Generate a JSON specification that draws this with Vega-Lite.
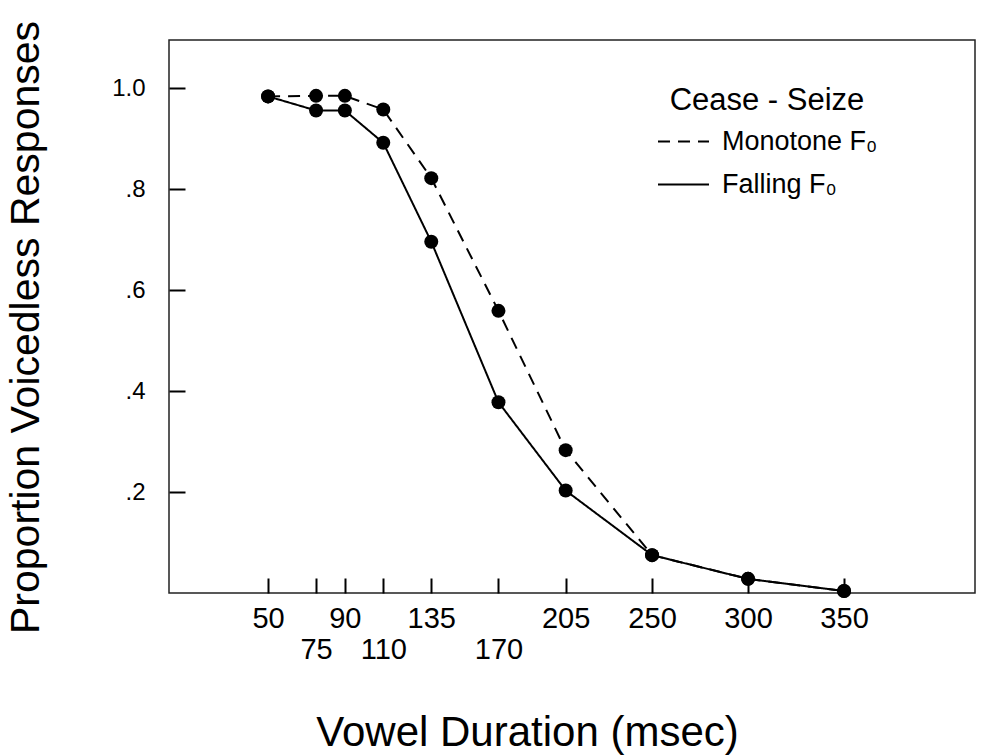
{
  "$schema": "https://vega.github.io/schema/vega-lite/v6.json",
  "autosize": "none",
  "padding": {"left": 169, "top": 40, "right": 19, "bottom": 163},
  "width": 806,
  "height": 553,
  "background": "white",
  "config": {
    "view": {"stroke": "#222", "strokeWidth": 1.5},
    "font": "Liberation Sans"
  },
  "data": {
    "values": [
      {"series": "Monotone F₀", "duration": 50, "p": 0.984},
      {"series": "Monotone F₀", "duration": 75, "p": 0.985},
      {"series": "Monotone F₀", "duration": 90, "p": 0.985},
      {"series": "Monotone F₀", "duration": 110, "p": 0.958},
      {"series": "Monotone F₀", "duration": 135, "p": 0.822},
      {"series": "Monotone F₀", "duration": 170, "p": 0.559},
      {"series": "Monotone F₀", "duration": 205, "p": 0.283},
      {"series": "Monotone F₀", "duration": 250, "p": 0.075},
      {"series": "Monotone F₀", "duration": 300, "p": 0.028},
      {"series": "Monotone F₀", "duration": 350, "p": 0.004},
      {"series": "Falling F₀", "duration": 50, "p": 0.984},
      {"series": "Falling F₀", "duration": 75, "p": 0.956},
      {"series": "Falling F₀", "duration": 90, "p": 0.956},
      {"series": "Falling F₀", "duration": 110, "p": 0.892},
      {"series": "Falling F₀", "duration": 135, "p": 0.696},
      {"series": "Falling F₀", "duration": 170, "p": 0.378},
      {"series": "Falling F₀", "duration": 205, "p": 0.203},
      {"series": "Falling F₀", "duration": 250, "p": 0.075},
      {"series": "Falling F₀", "duration": 300, "p": 0.028},
      {"series": "Falling F₀", "duration": 350, "p": 0.004}
    ]
  },
  "encoding": {
    "x": {
      "field": "duration",
      "type": "quantitative",
      "scale": {"domain": [-1.6, 418.2], "nice": false, "zero": false},
      "axis": {
        "values": [50, 75, 90, 110, 135, 170, 205, 250, 300, 350],
        "labelExpr": "indexof([75, 110, 170], datum.value) >= 0 ? ['', datum.label] : datum.label",
        "labelFontSize": 29,
        "labelLineHeight": 31,
        "labelBaseline": "top",
        "labelColor": "black",
        "labelOverlap": false,
        "labelFlush": false,
        "labelPadding": 26,
        "tickSize": -15,
        "tickWidth": 2,
        "tickColor": "black",
        "domain": false,
        "grid": false,
        "title": "Vowel Duration (msec)",
        "titleFontSize": 42,
        "titleFontWeight": "normal",
        "titleColor": "black",
        "titleX": 358,
        "titleY": 152,
        "titleBaseline": "alphabetic"
      }
    },
    "y": {
      "field": "p",
      "type": "quantitative",
      "scale": {"domain": [0, 1.0957], "nice": false, "zero": false},
      "axis": {
        "values": [0.2, 0.4, 0.6, 0.8, 1.0],
        "labelExpr": "datum.value >= 0.99 ? '1.0' : '.' + format(datum.value * 10, 'd')",
        "labelFontSize": 24,
        "labelColor": "black",
        "labelPadding": 40,
        "tickSize": -16,
        "tickWidth": 2,
        "tickColor": "black",
        "domain": false,
        "grid": false,
        "title": "Proportion Voicedless Responses",
        "titleFontSize": 41,
        "titleFontWeight": "normal",
        "titleColor": "black",
        "titleX": -122,
        "titleY": 287,
        "titleBaseline": "bottom"
      }
    }
  },
  "layer": [
    {
      "mark": {"type": "line", "stroke": "black", "strokeWidth": 2},
      "encoding": {
        "strokeDash": {
          "field": "series",
          "type": "nominal",
          "scale": {"domain": ["Monotone F₀", "Falling F₀"], "range": [[12, 8], [1, 0]]},
          "legend": {
            "title": "Cease - Seize",
            "orient": "none",
            "legendX": 488,
            "legendY": 46,
            "symbolType": "stroke",
            "symbolSize": 2601,
            "symbolStrokeWidth": 2,
            "symbolStrokeColor": "black",
            "labelFontSize": 27,
            "labelColor": "black",
            "labelOffset": 12,
            "labelLimit": 400,
            "titleFontSize": 31,
            "titleFontWeight": "normal",
            "titleColor": "black",
            "titleLimit": 400,
            "titleAnchor": "middle",
            "titlePadding": -2,
            "rowPadding": 3
          }
        }
      }
    },
    {
      "mark": {"type": "point", "filled": true, "shape": "circle", "size": 196, "color": "black", "opacity": 1},
      "encoding": {"detail": {"field": "series", "type": "nominal"}}
    }
  ]
}
